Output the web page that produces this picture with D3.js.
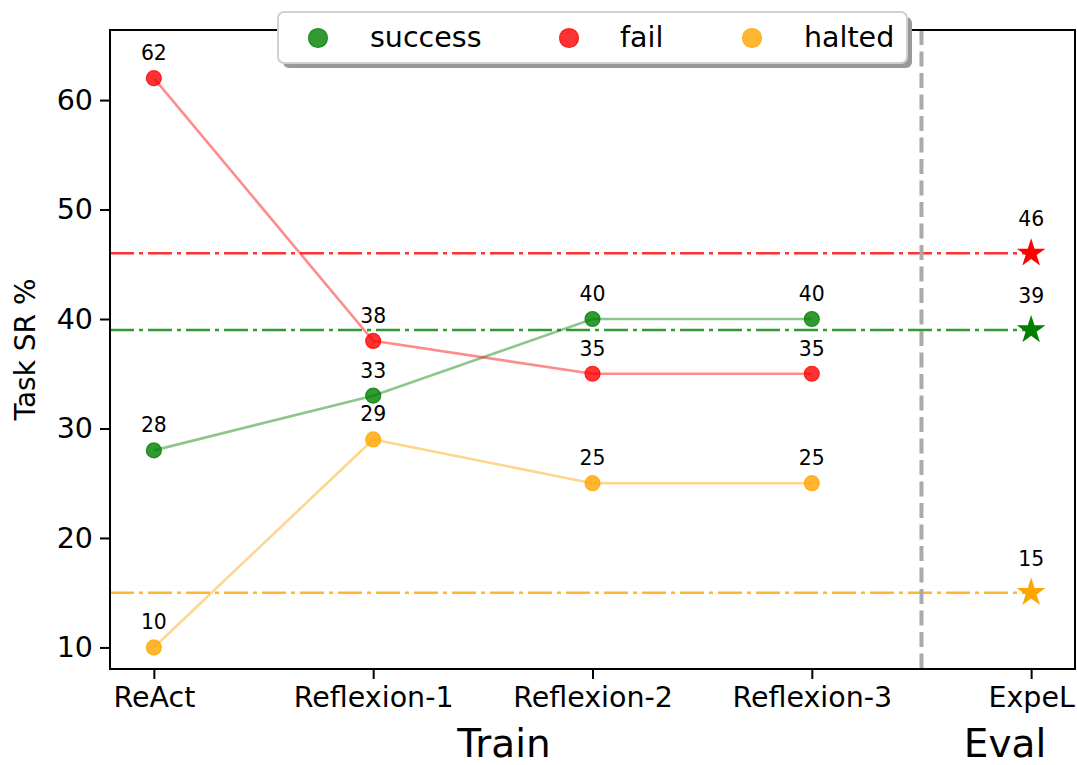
<!DOCTYPE html>
<html><head><meta charset="utf-8">
<script src="https://cdn.jsdelivr.net/npm/d3@7"></script>
<style>body{margin:0;background:#fff;} svg{display:block;font-family:"DejaVu Sans",sans-serif;}</style>
</head><body>
<svg id="c" width="1077" height="765"></svg>
<script>
const categories = ["ReAct", "Reflexion-1", "Reflexion-2", "Reflexion-3", "ExpeL"];
const trainSteps = ["ReAct", "Reflexion-1", "Reflexion-2", "Reflexion-3"];
const successVals = [28, 33, 40, 40];
const failVals = [62, 38, 35, 35];
const haltedVals = [10, 29, 25, 25];
const expelSuccess = 39;
const expelFail = 46;
const expelHalted = 15;
const yTicks = [10, 20, 30, 40, 50, 60];
const seriesNames = ["success", "fail", "halted"];
const seriesColors = ["green", "red", "orange"];

const svg = d3.select("#c");
const L = 110, R = 1075, T = 30, B = 669;
const x = d3.scaleLinear().domain([-0.2, 4.2]).range([L, R]);
const y = d3.scaleLinear().domain([8.03, 66.4]).range([B, T]);
const xi = c => x(categories.indexOf(c));

const series = [
  {name: seriesNames[0], color: seriesColors[0], vals: successVals, ev: expelSuccess},
  {name: seriesNames[1], color: seriesColors[1], vals: failVals, ev: expelFail},
  {name: seriesNames[2], color: seriesColors[2], vals: haltedVals, ev: expelHalted}
];

const g = svg.append("g");

// horizontal eval reference lines
series.forEach(s => {
  g.append("line")
    .attr("x1", x(-0.2)).attr("x2", x(4))
    .attr("y1", y(s.ev)).attr("y2", y(s.ev))
    .attr("stroke", s.color).attr("stroke-opacity", 0.8)
    .attr("stroke-width", 2.5).attr("stroke-dasharray", "24,5,4,5");
});

// vertical separator
g.append("line")
  .attr("x1", x(3.5)).attr("x2", x(3.5)).attr("y1", T).attr("y2", B)
  .attr("stroke", "#aaaaaa").attr("stroke-width", 4).attr("stroke-dasharray", "15,6.5");

// series lines
const line = d3.line().x((d, i) => xi(trainSteps[i])).y(d => y(d));
series.forEach(s => {
  g.append("path").datum(s.vals).attr("d", line)
    .attr("fill", "none").attr("stroke", s.color).attr("stroke-opacity", 0.45).attr("stroke-width", 2.6);
});
// points and labels
series.forEach(s => {
  s.vals.forEach((v, i) => {
    g.append("circle").attr("cx", xi(trainSteps[i])).attr("cy", y(v)).attr("r", 7.5)
      .attr("fill", s.color).attr("fill-opacity", 0.8)
      .attr("stroke", s.color).attr("stroke-opacity", 0.8).attr("stroke-width", 1.2);
    g.append("text").attr("x", xi(trainSteps[i])).attr("y", y(v) - 18)
      .attr("text-anchor", "middle").attr("font-size", 20.4).text(v);
  });
  g.append("path").attr("d", d3.symbol(d3.symbolStar, 255)())
    .attr("transform", `translate(${xi("ExpeL")},${y(s.ev)})`)
    .attr("fill", s.color);
  g.append("text").attr("x", xi("ExpeL")).attr("y", y(s.ev) - 27)
    .attr("text-anchor", "middle").attr("font-size", 20.4).text(s.ev);
});

// axes frame
svg.append("rect").attr("x", L).attr("y", T).attr("width", R - L).attr("height", B - T)
  .attr("fill", "none").attr("stroke", "#000").attr("stroke-width", 2);

const xAxis = d3.axisBottom(x).tickValues(d3.range(categories.length))
  .tickFormat(i => categories[i]).tickSize(10).tickPadding(7);
const xa = svg.append("g").attr("transform", `translate(0,${B})`).call(xAxis);
xa.select(".domain").remove();
xa.selectAll("line").attr("stroke-width", 2);
xa.selectAll("text").attr("font-size", 28.5).attr("font-family", "DejaVu Sans").attr("dy", "0.72em");

const yAxis = d3.axisLeft(y).tickValues(yTicks).tickSize(10).tickPadding(7);
const ya = svg.append("g").attr("transform", `translate(${L},0)`).call(yAxis);
ya.select(".domain").remove();
ya.selectAll("line").attr("stroke-width", 2);
ya.selectAll("text").attr("font-size", 28.5).attr("font-family", "DejaVu Sans");

svg.append("text").attr("transform", `translate(35,${(T + B) / 2}) rotate(-90)`)
  .attr("text-anchor", "middle").attr("font-size", 28).text("Task SR %");

svg.append("text").attr("x", 504).attr("y", 757).attr("text-anchor", "middle").attr("font-size", 39).text("Train");
svg.append("text").attr("x", 1005).attr("y", 757).attr("text-anchor", "middle").attr("font-size", 39).text("Eval");

// legend
const lg = svg.append("g");
lg.append("rect").attr("x", 283).attr("y", 17).attr("width", 629).attr("height", 51).attr("rx", 6)
  .attr("fill", "#999");
lg.append("rect").attr("x", 278).attr("y", 12).attr("width", 629).attr("height", 51).attr("rx", 6)
  .attr("fill", "#fff").attr("stroke", "#d0d0d0").attr("stroke-width", 2);
const legX = [318, 569, 752];
const legTX = [370, 620, 804];
series.forEach((s, i) => {
  lg.append("circle").attr("cx", legX[i]).attr("cy", 38).attr("r", 9.5)
    .attr("fill", s.color).attr("fill-opacity", 0.8)
    .attr("stroke", s.color).attr("stroke-opacity", 0.8).attr("stroke-width", 1.2);
  lg.append("text").attr("x", legTX[i]).attr("y", 47).attr("font-size", 28.5).text(s.name);
});
</script>
</body></html>
